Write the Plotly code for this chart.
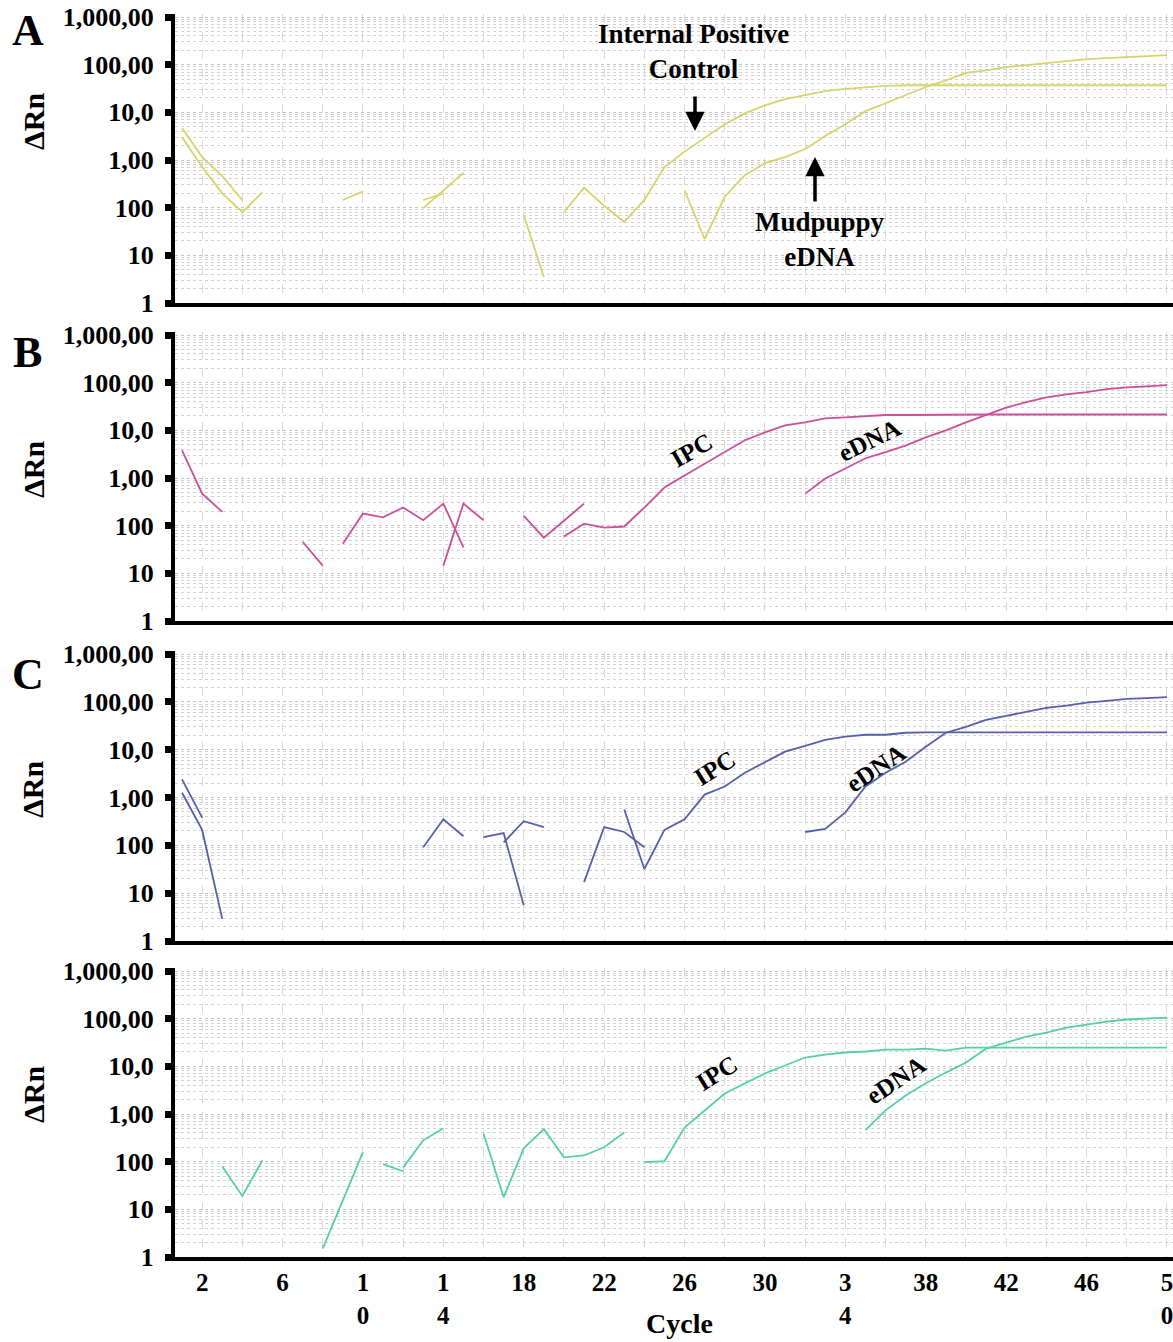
import plotly.graph_objects as go

# ---------------- data (ΔRn per cycle; None = gap / not plotted) ----------------
cycles = list(range(1, 51))

x_tickvals = [2, 6, 10, 14, 18, 22, 26, 30, 34, 38, 42, 46, 50]
x_ticktext = ["2", "6", "1<br>0", "1<br>4", "18", "22", "26", "30", "3<br>4", "38", "42", "46", "5<br>0"]

y_tickvals = [0.001, 0.01, 0.1, 1, 10, 100, 1000]
y_ticktext = ["1", "10", "100", "1,00", "10,0", "100,00", "1,000,00"]

N = None
# Panel A
A_ipc = [4.7, 1.15, 0.46, 0.145, N, N, N, N, 0.145, 0.22, N, N, 0.098, 0.23, 0.54, N, N, N, N,
         0.081, 0.26, 0.11, 0.05, 0.145, 0.71, 1.5, 2.9, 5.6, 9.5, 14, 19, 23, 28, 31, 34, 36,
         37, 37, 37, 37, 37, 37, 37, 37, 37, 37, 37, 37, 37, 37]
A_edna = [3.0, 0.71, 0.2, 0.081, 0.21, N, N, N, N, N, N, N, 0.145, 0.2, N, N, N, 0.07, 0.0035,
          N, N, N, N, N, N,
          0.23, 0.022, 0.17, 0.48, 0.86, 1.15, 1.7, 3.2, 5.6, 10.6, 15.5, 23, 34, 47, 67, 76, 89,
          98, 108, 118, 131, 137, 145, 151, 158]
# Panel B
B_edna = [3.8, 0.47, 0.195, N, N, N, 0.046, 0.0145, N, N, N, N, N, 0.0145, 0.29, 0.13, N,
          0.16, 0.056, 0.127, 0.29, N, N, N, N, N, N, N, N, N, N,
          0.47, 0.98, 1.58, 2.6, 3.5, 4.8, 7.1, 10, 14.7, 21, 30, 39, 49, 57, 63, 73, 80, 84, 89]
B_ipc = [N, N, N, N, N, N, N, N, 0.042, 0.18, 0.15, 0.24, 0.13, 0.29, 0.035, N, N, N, N,
         0.059, 0.11, 0.091, 0.096, 0.24, 0.63, 1.13, 2.0, 3.5, 6.2, 9.1, 12.7, 14.7, 17.8, 18.7,
         19.6, 21, 21, 21.3, 21.5, 21.5, 21.5, 21.5, 21.5, 21.5, 21.5, 21.5, 21.5, 21.5, 21.5, 21.5]
# Panel C
C_edna = [2.4, 0.38, N, N, N, N, N, N, N, N, N, N, 0.091, 0.35, 0.155, N, 0.115, 0.32, 0.24, N,
          0.017, 0.24, 0.19, 0.091, N, N, N, N, N, N, N,
          0.19, 0.22, 0.49, 1.7, 3.3, 5.6, 11.5, 22.6, 30, 42, 51, 62, 75, 83, 96, 105, 115, 120, 126]
C_ipc = [1.26, 0.21, 0.0029, N, N, N, N, N, N, N, N, N, N, N, N, 0.148, 0.18, 0.0056, N, N, N, N,
         0.56, 0.032, 0.21, 0.35, 1.15, 1.7, 3.3, 5.4, 9.1, 12, 16, 18.7, 20.5, 20.5, 22.6,
         23, 23, 23, 23, 23, 23, 23, 23, 23, 23, 23, 23, 23]
# Panel D
D_edna = [N, N, 0.079, 0.019, 0.107, N, N, N, N, N, 0.089, 0.063, N, N, N,
          0.39, 0.018, 0.19, 0.48, 0.123, 0.135, 0.2, 0.41, N, N, N, N, N, N, N, N, N, N, N,
          0.46, 1.19, 2.45, 4.4, 7.4, 12, 23.5, 31.6, 42, 51, 65, 75, 87, 96, 100, 105]
D_ipc = [N, N, N, N, N, N, N, 0.0015, 0.016, 0.158, N, 0.076, 0.28, 0.5, N, N, N, N, N, N, N, N, N,
         0.098, 0.102, 0.52, 1.19, 2.7, 4.4, 7.1, 10.4, 15.3, 17.7, 19.5, 20.5, 22.5, 22.5, 23.5,
         21.4, 24.6, 24.6, 24.6, 24.6, 24.6, 24.6, 24.6, 24.6, 24.6, 24.6, 24.6]

# ---------------- layout geometry ----------------
W, H = 1173, 1342
ML, MB = 175, 85
PW, PH = W - ML, H - MB


def pxx(p):
    return (p - ML) / PW


def pyy(p):
    return (PH - p) / PH


SERIF = "Liberation Serif, Times New Roman, serif"

panels = [
    # letter, top px, bottom px, color, series
    ("A", 14, 303, "#d6d46a", [A_ipc, A_edna]),
    ("B", 332, 621, "#cc4f98", [B_ipc, B_edna]),
    ("C", 651, 941, "#5560ad", [C_ipc, C_edna]),
    ("D", 968, 1257, "#55d0a4", [D_ipc, D_edna]),
]

minor_y = [m * 10 ** e for e in range(-3, 3) for m in range(2, 10)]

fig = go.Figure()
layout = {}
for i, (letter, top, bot, color, series) in enumerate(panels):
    n = i + 1
    sfx = "" if n == 1 else str(n)
    for s in series:
        fig.add_trace(go.Scatter(
            x=cycles, y=s, mode="lines",
            line=dict(color=color, width=1.8),
            xaxis="x" + sfx, yaxis="y" + sfx,
            showlegend=False, hoverinfo="skip"))
    layout["xaxis" + sfx] = dict(
        domain=[0, 1], anchor="y" + sfx, range=[0.65, 50.3],
        tickmode="array", tickvals=x_tickvals, ticktext=x_ticktext,
        showticklabels=(n == 4), ticks="", ticklabeloverflow="allow",
        tickfont=dict(family=SERIF, size=25, color="black", weight="bold"),
        showgrid=True, gridcolor="#d9d9d9", griddash="dash", gridwidth=1,
        minor=dict(tick0=0, dtick=2, showgrid=True, gridcolor="#d9d9d9",
                   griddash="dash", gridwidth=1, ticks=""),
        showline=True, linewidth=4, linecolor="black", zeroline=False,
    )
    layout["yaxis" + sfx] = dict(
        domain=[pyy(bot), pyy(top)], anchor="x" + sfx, type="log",
        range=[-3, 3.063],
        tickmode="array", tickvals=y_tickvals, ticktext=y_ticktext,
        ticks="outside", ticklen=6, tickwidth=7, tickcolor="black",
        ticklabelstandoff=6,
        tickfont=dict(family=SERIF, size=26, color="black", weight="bold"),
        showgrid=True, gridcolor="#c4c4c4", griddash="dot", gridwidth=1,
        minor=dict(tickmode="array", tickvals=minor_y, showgrid=True,
                   gridcolor="#d2d2d2", griddash="dot", gridwidth=1, ticks=""),
        showline=True, linewidth=4, linecolor="black", zeroline=False,
    )

ann = []


def text(t, x, y, size, angle=0):
    ann.append(dict(text="<b>" + t + "</b>", x=pxx(x), y=pyy(y), xref="paper", yref="paper",
                    showarrow=False, textangle=angle, xanchor="center", yanchor="middle",
                    font=dict(family=SERIF, size=size, color="black")))


# panel letters
text("A", 28, 30, 44)
text("B", 27, 352, 44)
text("C", 28, 675, 44)
# y titles
for yc in (122, 470, 790, 1095):
    text("ΔRn", 33, yc, 30, -90)
# x title
text("Cycle", 679, 1323, 28)
# panel A annotations
text("Internal Positive<br>Control", 693, 52, 27)
text("Mudpuppy<br>eDNA", 820, 240, 27)
# arrows
for (xh, yh, dy) in ((695, 131, -36), (815, 157, 46)):
    ann.append(dict(text="", x=pxx(xh), y=pyy(yh), xref="paper", yref="paper",
                    showarrow=True, ax=0, ay=dy, arrowhead=2, arrowsize=1.1,
                    arrowwidth=3.5, arrowcolor="black"))
# curve labels
text("IPC", 691, 450, 25, -30)
text("eDNA", 869, 441, 25, -26)
text("IPC", 714, 768, 25, -32)
text("eDNA", 875, 768, 25, -34)
text("IPC", 716, 1073, 25, -32)
text("eDNA", 895, 1080, 25, -34)

fig.update_layout(
    width=W, height=H,
    margin=dict(l=ML, r=0, t=0, b=MB, autoexpand=False),
    plot_bgcolor="white", paper_bgcolor="white",
    showlegend=False, annotations=ann,
    **layout,
)

fig.write_html(
    "out.html",
    config={"displayModeBar": False},
    post_script="document.body.style.margin='0px';document.body.style.overflow='hidden';",
)
